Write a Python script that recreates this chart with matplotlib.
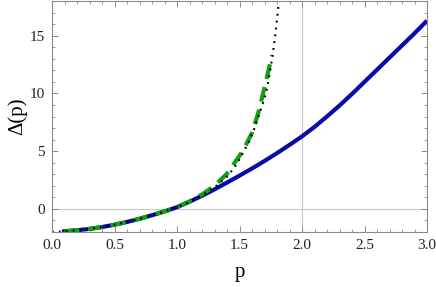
import matplotlib
matplotlib.use("Agg")
import matplotlib.pyplot as plt
from matplotlib.ticker import MultipleLocator, FormatStrFormatter

p_blue = [0.08, 0.2, 0.3, 0.4, 0.5, 0.6, 0.7, 0.8, 0.9, 1.0, 1.1, 1.2, 1.3, 1.4, 1.5,
          1.6, 1.7, 1.8, 1.9, 2.0, 2.1, 2.2, 2.3, 2.4, 2.5, 2.6, 2.7, 2.8, 2.9, 3.0]
d_blue = [-1.95, -1.85, -1.73, -1.57, -1.37, -1.13, -0.86, -0.55, -0.22, 0.15, 0.62,
          1.14, 1.69, 2.28, 2.88, 3.5, 4.15, 4.83, 5.54, 6.28, 7.1, 8.0, 8.95, 9.95,
          11.0, 12.05, 13.1, 14.15, 15.2, 16.3]

p_green = [0.1, 0.2, 0.3, 0.4, 0.5, 0.6, 0.7, 0.8, 0.9, 1.0, 1.1, 1.2, 1.3, 1.4, 1.5,
           1.55, 1.6, 1.65, 1.7, 1.76]
d_green = [-1.95, -1.85, -1.73, -1.57, -1.37, -1.13, -0.86, -0.55, -0.22, 0.15, 0.65,
           1.25, 2.0, 3.05, 4.6, 5.5, 6.6, 8.3, 10.5, 13.3]

p_black = [0.0, 0.1, 0.2, 0.3, 0.4, 0.5, 0.6, 0.7, 0.8, 0.9, 1.0, 1.1, 1.2, 1.3, 1.4,
           1.46, 1.5, 1.54, 1.58, 1.62, 1.66, 1.7, 1.72, 1.75, 1.77, 1.79, 1.81, 1.825]
d_black = [-2.0, -1.95, -1.85, -1.73, -1.57, -1.37, -1.13, -0.86, -0.55, -0.22, 0.15,
           0.6, 1.15, 1.85, 2.8, 3.6, 4.3, 5.1, 5.9, 7.0, 8.3, 9.6, 10.4, 12.3, 13.7,
           15.4, 17.4, 19.5]

plt.rcParams['font.family'] = ['Liberation Serif', 'DejaVu Serif']

fig = plt.figure(figsize=(4.36, 2.87), dpi=100)
ax = fig.add_axes([52 / 436, 1 - 232 / 287, 375 / 436, 231 / 287])

ax.axvline(2.0, color='#c8c8c8', lw=0.8, zorder=0)
ax.axhline(0.0, color='#c8c8c8', lw=0.8, zorder=0)

ax.plot(p_blue, d_blue, color='#0a0aa8', lw=3.0, solid_capstyle='butt')
ax.plot(p_green, d_green, color='#10a010', lw=3.0, dashes=(3.6, 2.0))
ax.plot(p_black, d_black, color='black', lw=1.6, dashes=(0.8, 2.3))

ax.set_xlim(0, 3.0)
ax.set_ylim(-2, 18)
ax.xaxis.set_major_locator(MultipleLocator(0.5))
ax.xaxis.set_minor_locator(MultipleLocator(0.1))
ax.yaxis.set_major_locator(MultipleLocator(5))
ax.yaxis.set_minor_locator(MultipleLocator(1))
ax.xaxis.set_major_formatter(FormatStrFormatter('%.1f'))

for s in ax.spines.values():
    s.set_color('#8a8a8a')
    s.set_linewidth(0.8)
ax.tick_params(which='both', direction='in', top=True, right=True,
               color='#8a8a8a', labelsize=11, labelcolor='#222222')
ax.tick_params(which='major', length=4.5, width=0.7, pad=5)
ax.tick_params(which='minor', length=2.5, width=0.6)

ax.set_xlabel('p', fontsize=15, labelpad=8)
ax.set_ylabel('Δ(p)', fontsize=15, labelpad=2)

fig.savefig('out.png', dpi=100)
